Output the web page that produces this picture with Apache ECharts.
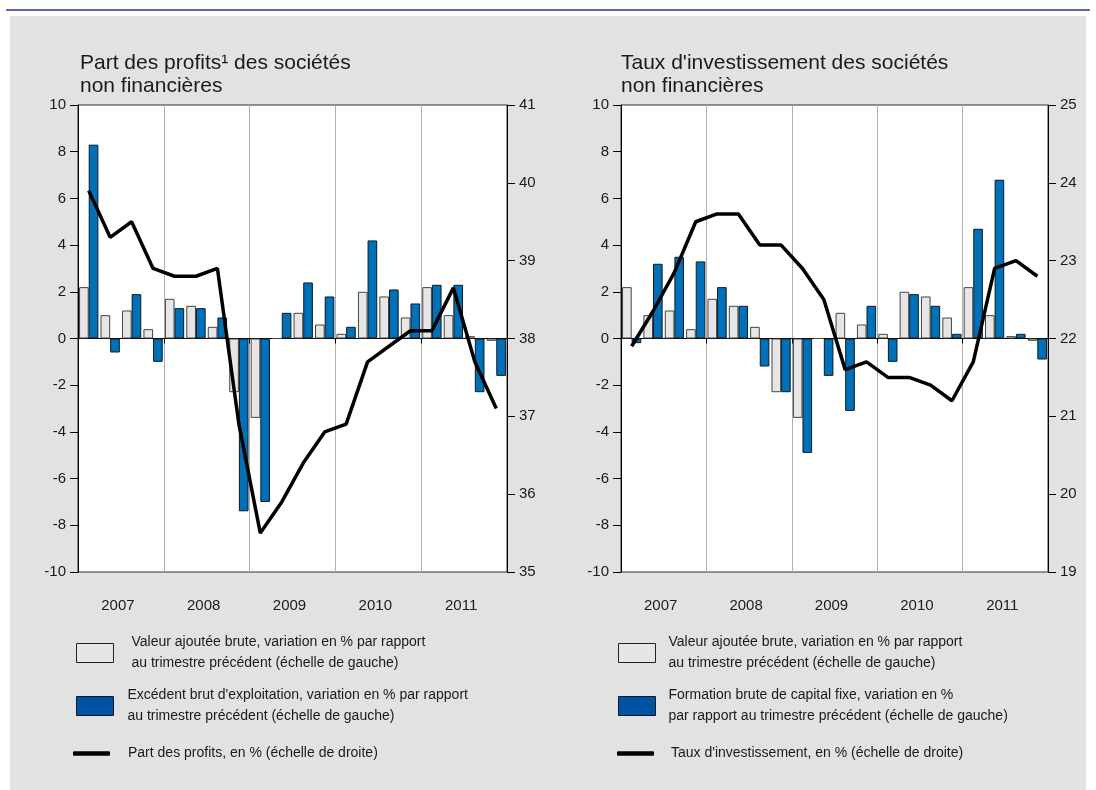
<!DOCTYPE html>
<html>
<head>
<meta charset="utf-8">
<script src="https://cdn.jsdelivr.net/npm/echarts@6/dist/echarts.min.js"></script>
<style>
html,body{margin:0;padding:0;background:#fff;}
#c{width:1096px;height:790px;}
</style>
</head>
<body>
<div id="c"></div>
<script>
// ---- data ----
const quarters = ['2007T1','2007T2','2007T3','2007T4','2008T1','2008T2','2008T3','2008T4',
  '2009T1','2009T2','2009T3','2009T4','2010T1','2010T2','2010T3','2010T4',
  '2011T1','2011T2','2011T3','2011T4'];
const years = ['2007','2008','2009','2010','2011'];

// left chart
const valeurAjoutee = [2.2, 1.0, 1.2, 0.4, 1.7, 1.4, 0.5, -2.3, -3.4, 0.0, 1.1, 0.6, 0.2, 2.0, 1.8, 0.9, 2.2, 1.0, 0.1, -0.1];
const excedentBrut = [8.3, -0.6, 1.9, -1.0, 1.3, 1.3, 0.9, -7.4, -7.0, 1.1, 2.4, 1.8, 0.5, 4.2, 2.1, 1.5, 2.3, 2.3, -2.3, -1.6];
const partProfits = [39.9, 39.3, 39.5, 38.9, 38.8, 38.8, 38.9, 36.9, 35.5, 35.9, 36.4, 36.8, 36.9, 37.7, 37.9, 38.1, 38.1, 38.65, 37.7, 37.1];

// right chart
const valeurAjoutee2 = [2.2, 1.0, 1.2, 0.4, 1.7, 1.4, 0.5, -2.3, -3.4, 0.0, 1.1, 0.6, 0.2, 2.0, 1.8, 0.9, 2.2, 1.0, 0.1, -0.1];
const fbcf = [-0.2, 3.2, 3.5, 3.3, 2.2, 1.4, -1.2, -2.3, -4.9, -1.6, -3.1, 1.4, -1.0, 1.9, 1.4, 0.2, 4.7, 6.8, 0.2, -0.9];
const tauxInvest = [21.9, 22.35, 22.85, 23.5, 23.6, 23.6, 23.2, 23.2, 22.9, 22.5, 21.6, 21.7, 21.5, 21.5, 21.4, 21.2, 21.7, 22.9, 23.0, 22.8];

// texts
const title1 = 'Part des profits\u00b9 des sociétés\nnon financières';
const title2 = "Taux d'investissement des sociétés\nnon financières";
const legVA = 'Valeur ajoutée brute, variation en % par rapport\nau trimestre précédent (échelle de gauche)';
const legEBE = "Excédent brut d'exploitation, variation en % par rapport\nau trimestre précédent (échelle de gauche)";
const legPP = 'Part des profits, en % (échelle de droite)';
const legFBCF = 'Formation brute de capital fixe, variation en %\npar rapport au trimestre précédent (échelle de gauche)';
const legTI = "Taux d'investissement, en % (échelle de droite)";

const FONT = "'Liberation Sans', Arial, sans-serif";
const TXT = '#1a1a1a';
const GRAY = '#e6e6e6';
const BLUE = '#0070b8';
const BLUE_LEG = '#0053a3';

const chart = echarts.init(document.getElementById('c'), null, {renderer:'canvas'});

function grid(left, right) {
  return {left: left, right: right, top: 105, bottom: 218, show: true,
    backgroundColor: '#fff', borderColor: '#333', borderWidth: 1, containLabel: false};
}
function xQuarter(gi) {
  return {type:'category', gridIndex: gi, data: quarters, boundaryGap: true, position:'bottom',
    axisLine: {show:true, onZero:true, lineStyle:{color:'#000', width:1}},
    axisTick: {show:true, interval:3, length:5, inside:false, lineStyle:{color:'#000'}},
    axisLabel: {show:false},
    splitLine: {show:true, interval:3, lineStyle:{color:'#b0b0b0', width:1}}};
}
function xYear(gi) {
  return {type:'category', gridIndex: gi, data: years, boundaryGap: true, position:'bottom',
    axisLine: {show:false, onZero:false}, axisTick:{show:false}, splitLine:{show:false},
    axisLabel: {show:true, margin: 26, fontSize: 15, color: TXT, fontFamily: FONT, padding:[0,6,0,0]}};
}
function yAx(gi, pos, min, max, interval) {
  return {type:'value', gridIndex: gi, position: pos, min: min, max: max, interval: interval,
    axisLine: {show:true, lineStyle:{color:'#000', width:1}},
    axisTick: {show:true, length:8, inside:false, lineStyle:{color:'#000'}},
    axisLabel: {show:true, margin: 12, fontSize: 15, color: TXT, fontFamily: FONT},
    splitLine: {show:false}};
}
function legendAt(name, left, top, padLeft, kind) {
  const isLine = kind === 'line';
  let itemStyle = {borderWidth:1, borderColor:'#222'};
  if (isLine) itemStyle = {color:'#000', borderWidth:0};
  if (kind === 'blue') itemStyle = {color:BLUE_LEG, borderWidth:1, borderColor:'#0d1a26'};
  return {data:[name], left:left, top:top, orient:'vertical', itemWidth:37,
    itemHeight: isLine ? 4.5 : 19, icon: isLine ? 'roundRect' : 'rect',
    padding:0, selectedMode:false, itemStyle: itemStyle,
    textStyle:{fontSize:14, lineHeight:21, color:TXT, fontFamily:FONT, padding:[isLine ? 8 : 0,0,0,padLeft]}};
}
const barBase = {type:'bar', barGap:'0%', barCategoryGap:'10%'};
const titleStyle = {fontSize:21, lineHeight:23, fontWeight:'normal', color:TXT, fontFamily:FONT};

const option = {
  animation: false,
  textStyle: {fontFamily: FONT},
  graphic: [
    {type:'rect', z:-10, silent:true, shape:{x:10, y:16, width:1076, height:774}, style:{fill:'#e2e2e2'}},
    {type:'line', z:-10, silent:true, shape:{x1:6, y1:10, x2:1090, y2:10}, style:{stroke:'#23399a', lineWidth:1.5}}
  ],
  title: [
    {text: title1, left: 80, top: 52, padding:0, textStyle: titleStyle},
    {text: title2, left: 621, top: 52, padding:0, textStyle: titleStyle}
  ],
  grid: [grid(78, 589), grid(621, 48)],
  xAxis: [xQuarter(0), xYear(0), xQuarter(1), xYear(1)],
  yAxis: [yAx(0,'left',-10,10,2), yAx(0,'right',35,41,1), yAx(1,'left',-10,10,2), yAx(1,'right',19,25,1)],
  legend: [
    legendAt(legVA, 76, 632, 13, 'gray'),
    legendAt(legEBE, 76, 685, 9, 'blue'),
    legendAt(legPP, 73, 739, 13, 'line'),
    legendAt(legVA + ' ', 618, 632, 8, 'gray'),
    legendAt(legFBCF, 618, 685, 8, 'blue'),
    legendAt(legTI, 617, 739, 12, 'line')
  ],
  series: [
    Object.assign({}, barBase, {name: legVA, xAxisIndex:0, yAxisIndex:0, data: valeurAjoutee,
      itemStyle:{color:GRAY, borderColor:'#444', borderWidth:1}}),
    Object.assign({}, barBase, {name: legEBE, xAxisIndex:0, yAxisIndex:0, data: excedentBrut,
      itemStyle:{color:BLUE, borderColor:'#0d1a26', borderWidth:1}}),
    {type:'line', name: legPP, xAxisIndex:0, yAxisIndex:1, data: partProfits, symbol:'none', z:5,
      lineStyle:{color:'#000', width:3.5}, itemStyle:{color:'#000'}},
    Object.assign({}, barBase, {name: legVA + ' ', xAxisIndex:2, yAxisIndex:2, data: valeurAjoutee2,
      itemStyle:{color:GRAY, borderColor:'#444', borderWidth:1}}),
    Object.assign({}, barBase, {name: legFBCF, xAxisIndex:2, yAxisIndex:2, data: fbcf,
      itemStyle:{color:BLUE, borderColor:'#0d1a26', borderWidth:1}}),
    {type:'line', name: legTI, xAxisIndex:2, yAxisIndex:3, data: tauxInvest, symbol:'none', z:5,
      lineStyle:{color:'#000', width:3.5}, itemStyle:{color:'#000'}}
  ]
};
chart.setOption(option);
</script>
</body>
</html>
